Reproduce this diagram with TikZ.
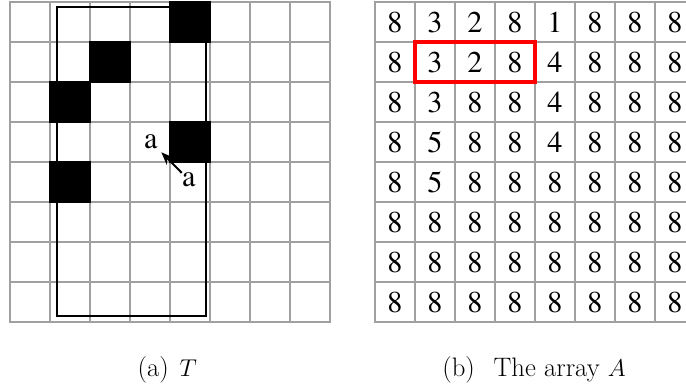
\documentclass[tikz,border=0pt]{standalone}
\usepackage{fontspec}
\usepackage{tikz}
\usetikzlibrary{positioning}
\usetikzlibrary{arrows.meta}
\newfontfamily\timesfont{texgyretermes-regular.otf}
\definecolor{gridgray}{RGB}{160,160,160}

\begin{document}
\begin{tikzpicture}[
	  tcell/.style = {shape=rectangle, draw=gridgray, line width=1.3pt, minimum size=1cm, inner sep=0pt, outer sep=0pt},
	  numcell/.style = {tcell, font=\timesfont\fontsize{21.5}{24}\selectfont},
	  blackcell/.style = {tcell, draw=black, fill=black},
	  window/.style = {draw, line width=1.4pt},
	  redbox/.style = {draw=red, line width=2.5pt},
	  letter/.style = {shape=circle, inner sep=0pt, font=\timesfont\fontsize{21.5}{24}\selectfont},
	  caption/.style = {font=\fontsize{19}{22}\selectfont}
	]
	  \useasboundingbox (0,0) rectangle (17.15,9.75);
	  \clip (0,0) rectangle (17.15,9.75);

	  % (a) the grid T
	  \foreach \r in {0,...,7}
		\foreach \c in {0,...,7}
		  \node[tcell] (T-\r-\c) at (0.75+\c, 9.2-\r) {};
	  \draw[window] ([shift={(0.17,0.16)}]T-7-1.south west) rectangle ([shift={(-0.11,-0.13)}]T-0-4.north east);
	  \foreach \r/\c in {0/4, 1/2, 2/1, 3/4, 4/1}
		\node[blackcell] (B-\r-\c) at (T-\r-\c) {};
	  \node[letter, inner sep=2.5pt] (a1) at (3.77,6.21) {a};
	  \node[letter] (a2) at (4.72,5.25) {a};
	  \draw[-{Stealth[length=9pt,width=7pt]}, line width=1.4pt] (a2) -- (a1);

	  % (b) the array A
	  \foreach \row [count=\r from 0] in {{8,3,2,8,1,8,8,8},{8,3,2,8,4,8,8,8},{8,3,8,8,4,8,8,8},{8,5,8,8,4,8,8,8},{8,5,8,8,8,8,8,8},{8,8,8,8,8,8,8,8},{8,8,8,8,8,8,8,8},{8,8,8,8,8,8,8,8}}
		\foreach \v [count=\c from 0] in \row
		  \node[numcell] (A-\r-\c) at (9.875+\c, 9.2-\r) {\v};
	  \draw[redbox] (A-1-1.north west) rectangle (A-1-3.south east);

	  \node[caption] (capT) at (4.18,0.5) {(a)\hspace{0.4em}$T$};
	  \node[caption] (capA) at (13.35,0.5) {(b)\hspace{0.7em}The array $A$};
	\end{tikzpicture}
\end{document}
